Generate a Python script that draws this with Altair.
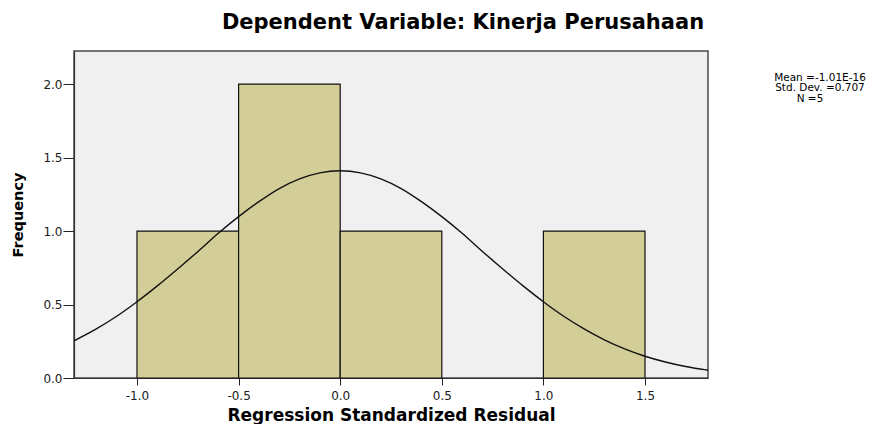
import altair as alt
import pandas as pd

# Histogram bins (Regression Standardized Residual) and frequencies
bin_start = [-1.0, -0.5, 0.0, 0.5, 1.0]
bin_end = [-0.5, 0.0, 0.5, 1.0, 1.5]
freq = [1, 2, 1, 0, 1]

# Normal curve
curve_x = [-1.31, -1.2, -1.1, -1.0, -0.9, -0.8, -0.7, -0.6, -0.5, -0.4, -0.3, -0.2, -0.1,
           0.0, 0.1, 0.2, 0.3, 0.4, 0.5, 0.6, 0.7, 0.8, 0.9, 1.0, 1.1, 1.2, 1.3, 1.4,
           1.5, 1.6, 1.7, 1.8, 1.81]
curve_y = [0.253, 0.334, 0.42, 0.519, 0.627, 0.742, 0.861, 0.985, 1.098, 1.20, 1.289, 1.355, 1.396,
           1.41, 1.396, 1.355, 1.289, 1.20, 1.098, 0.985, 0.861, 0.742, 0.627, 0.519, 0.42, 0.334, 0.26, 0.198,
           0.148, 0.109, 0.078, 0.055, 0.053]

x_ticks = [-1.0, -0.5, 0.0, 0.5, 1.0, 1.5]
y_ticks = [0.0, 0.5, 1.0, 1.5, 2.0]

title_text = "Dependent Variable: Kinerja Perusahaan"
mean_line = "Mean =-1.01E-16"
sd_line = "Std. Dev. =0.707"
n_line = "N =5"

bars_df = pd.DataFrame({"start": bin_start, "end": bin_end, "count": freq})
curve_df = pd.DataFrame({"x": curve_x, "y": curve_y})

FONT = "DejaVu Sans"
LABEL_EXPR = "replace(format(datum.value, '.1f'), '\u2212', '-')"

xscale = alt.Scale(domain=[-1.31, 1.81], nice=False, zero=False)
yscale = alt.Scale(domain=[0, 2.225], nice=False, zero=False)

xaxis = alt.Axis(
    values=x_ticks, labelExpr=LABEL_EXPR, title="Regression Standardized Residual",
    titleFont=FONT, titleFontSize=17, titleFontWeight="bold", titleColor="#000",
    titleBaseline="alphabetic", titleY=42,
    labelFont=FONT, labelFontSize=12, labelColor="#1a1a1a", labelPadding=5,
    labelFlush=False, labelOverlap=False,
    tickSize=7, tickColor="#222", domainColor="#333", domainWidth=1.2, grid=False,
)
yaxis = alt.Axis(
    values=y_ticks, labelExpr=LABEL_EXPR, title="Frequency",
    titleFont=FONT, titleFontSize=14.5, titleFontWeight="bold", titleColor="#000",
    titleBaseline="alphabetic", titleX=-51.4, titleY=163.5, titleAngle=-90,
    labelFont=FONT, labelFontSize=12, labelColor="#1a1a1a", labelPadding=1,
    labelFlush=False, labelOverlap=False,
    tickSize=11, tickColor="#222", domainColor="#333", domainWidth=1.2, grid=False,
)

bars = alt.Chart(bars_df).transform_filter("datum.count > 0").mark_rect(
    fill="#D3CE97", stroke="#111", strokeWidth=1.2
).encode(
    x=alt.X("start:Q", scale=xscale, axis=xaxis),
    x2="end:Q",
    y=alt.Y("count:Q", scale=yscale, axis=yaxis),
    y2=alt.datum(0),
)

curve = alt.Chart(curve_df).mark_line(
    color="#111", strokeWidth=1.4, interpolate="monotone", clip=True
).encode(
    x=alt.X("x:Q", scale=xscale),
    y=alt.Y("y:Q", scale=yscale),
)


def label(text, size, x, y, weight="normal"):
    return alt.Chart(pd.DataFrame({"t": [text]})).mark_text(
        font=FONT, fontSize=size, fontWeight=weight, color="#000",
        align="center", baseline="alphabetic"
    ).encode(text="t:N", x=alt.value(x), y=alt.value(y))


title = label(title_text, 21, 389, -22, "bold")
mean_t = label(mean_line, 10.5, 746, 29.5)
sd_t = label(sd_line, 10.5, 746, 40)
n_t = label(n_line, 10.5, 736, 50.5)

chart = alt.layer(bars, curve, title, mean_t, sd_t, n_t).properties(
    width=634, height=327,
    padding={"left": 66, "top": 43, "right": 168, "bottom": 46},
    autosize="none",
    background="white",
).configure_view(
    fill="#F0F0F0", stroke="#4a4a4a", strokeWidth=1.5
)

chart.save("out.html", embed_options={"renderer": "svg", "actions": False})
